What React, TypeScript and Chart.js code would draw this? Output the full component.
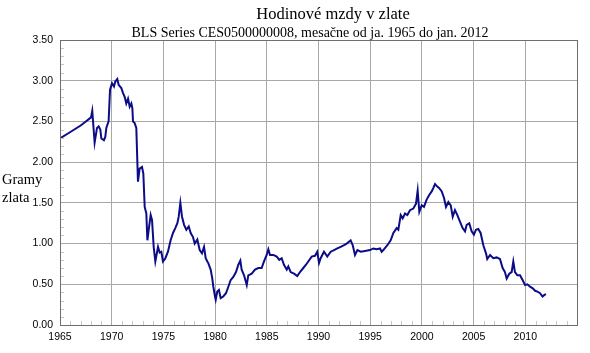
import React, { useEffect, useRef } from "react";
import { Chart, registerables } from "chart.js";

Chart.register(...registerables);

const titleLines = [
  "Hodinové mzdy v zlate",
  "BLS Series CES0500000008, mesačne od ja. 1965 do jan. 2012",
];
const yAxisLabel = ["Gramy", "zlata"];
const xTickYears = [1965, 1970, 1975, 1980, 1985, 1990, 1995, 2000, 2005, 2010];

// 1965 – 1979
const yearsA = [
  1965.0, 1966.0, 1967.0, 1967.5, 1968.0, 1968.12, 1968.35, 1968.58, 1968.74, 1968.9,
  1969.0, 1969.25, 1969.38, 1969.48, 1969.7, 1969.84, 1970.03, 1970.22, 1970.35, 1970.54,
  1970.67, 1970.93, 1971.09, 1971.26, 1971.41, 1971.58, 1971.74, 1971.9, 1972.0, 1972.06,
  1972.22, 1972.38, 1972.54, 1972.7, 1972.93, 1973.06, 1973.19, 1973.35, 1973.45, 1973.58,
  1973.77, 1973.9, 1974.06, 1974.22, 1974.48, 1974.64, 1974.8, 1974.96, 1975.19, 1975.44,
  1975.7, 1975.93, 1976.15, 1976.35, 1976.48, 1976.64, 1976.8, 1977.0, 1977.22, 1977.45,
  1977.64, 1977.86, 1978.03, 1978.28, 1978.51, 1978.73, 1978.93, 1979.09, 1979.25,
];
const gramsA = [
  2.29, 2.37, 2.45, 2.5, 2.55, 2.63, 2.24, 2.42, 2.44, 2.4,
  2.29, 2.27, 2.31, 2.42, 2.5, 2.89, 2.97, 2.93, 2.99, 3.02,
  2.95, 2.91, 2.85, 2.8, 2.72, 2.78, 2.68, 2.72, 2.66, 2.5,
  2.48, 2.42, 1.76, 1.92, 1.94, 1.86, 1.45, 1.37, 1.04, 1.17,
  1.35, 1.29, 0.96, 0.78, 0.96, 0.89, 0.9, 0.78, 0.82, 0.9,
  1.04, 1.13, 1.19, 1.25, 1.33, 1.5, 1.33, 1.23, 1.17, 1.21,
  1.13, 1.08, 1.0, 1.05, 0.92, 0.88, 0.96, 0.82, 0.78,
];

// 1979 – 1996
const yearsB = [
  1979.34, 1979.57, 1979.73, 1979.83, 1979.99, 1980.06, 1980.21, 1980.37, 1980.54, 1980.79,
  1981.05, 1981.28, 1981.5, 1981.76, 1982.02, 1982.25, 1982.44, 1982.57, 1982.8, 1983.06,
  1983.21, 1983.54, 1983.86, 1984.18, 1984.5, 1984.73, 1984.99, 1985.15, 1985.31, 1985.63,
  1985.96, 1986.21, 1986.44, 1986.66, 1986.93, 1987.08, 1987.31, 1987.63, 1987.95, 1988.21,
  1988.53, 1988.79, 1989.01, 1989.34, 1989.66, 1989.88, 1990.05, 1990.21, 1990.53, 1990.85,
  1991.18, 1991.5, 1991.82, 1992.15, 1992.47, 1992.73, 1993.11, 1993.31, 1993.53, 1993.76,
  1994.08, 1994.5, 1994.98, 1995.3, 1995.63, 1995.95,
];
const gramsB = [
  0.76, 0.68, 0.57, 0.47, 0.35, 0.31, 0.41, 0.43, 0.33, 0.35,
  0.39, 0.47, 0.55, 0.59, 0.65, 0.74, 0.79, 0.68, 0.61, 0.49,
  0.61, 0.63, 0.68, 0.7, 0.7, 0.78, 0.86, 0.93, 0.86, 0.86,
  0.84, 0.8, 0.82, 0.74, 0.68, 0.72, 0.65, 0.63, 0.6, 0.65,
  0.7, 0.74, 0.78, 0.84, 0.85, 0.9, 0.76, 0.82, 0.9, 0.84,
  0.9, 0.92, 0.94, 0.96, 0.98, 1.0, 1.04, 0.98, 0.86, 0.92,
  0.9, 0.91, 0.92, 0.94, 0.93, 0.94,
];

// 1996 – 2012
const yearsC = [
  1996.11, 1996.27, 1996.66, 1996.98, 1997.24, 1997.56, 1997.72, 1997.95, 1998.14, 1998.37,
  1998.59, 1998.85, 1999.17, 1999.43, 1999.59, 1999.75, 1999.98, 2000.2, 2000.46, 2000.72,
  2000.95, 2001.1, 2001.27, 2001.49, 2001.68, 2001.92, 2002.14, 2002.33, 2002.56, 2002.79,
  2002.98, 2003.2, 2003.43, 2003.68, 2003.94, 2004.17, 2004.33, 2004.58, 2004.81, 2005.03,
  2005.23, 2005.45, 2005.68, 2005.94, 2006.2, 2006.32, 2006.59, 2006.91, 2007.23, 2007.55,
  2007.81, 2008.03, 2008.2, 2008.45, 2008.68, 2008.84, 2009.0, 2009.23, 2009.49, 2009.75,
  2009.98, 2010.2, 2010.46, 2010.72, 2010.95, 2011.17, 2011.43, 2011.66, 2011.85, 2012.0,
];
const gramsC = [
  0.9, 0.92, 0.98, 1.04, 1.13, 1.19, 1.17, 1.35, 1.31, 1.37,
  1.35, 1.41, 1.43, 1.49, 1.65, 1.39, 1.47, 1.45, 1.54, 1.6,
  1.64, 1.68, 1.73, 1.7, 1.68, 1.64, 1.56, 1.45, 1.51, 1.47,
  1.33, 1.41, 1.35, 1.27, 1.19, 1.15, 1.23, 1.25, 1.15, 1.11,
  1.17, 1.18, 1.13, 0.98, 0.88, 0.81, 0.86, 0.82, 0.83, 0.81,
  0.7, 0.65, 0.57, 0.63, 0.65, 0.78, 0.65, 0.61, 0.61, 0.55,
  0.49, 0.5, 0.47, 0.45, 0.42, 0.41, 0.39, 0.35, 0.37, 0.38,
];

const allYears = [...yearsA, ...yearsB, ...yearsC];
const allGrams = [...gramsA, ...gramsB, ...gramsC];

const decorPlugin = {
  id: "decor",
  afterDraw(chart: any) {
    const { ctx, chartArea, scales } = chart;
    const xs = scales.x;
    const ys = scales.y;
    ctx.save();
    // minor ticks
    ctx.strokeStyle = "#c8c8c8";
    ctx.lineWidth = 1;
    ctx.beginPath();
    for (let i = 1; i < 35; i++) {
      if (i % 5 === 0) continue;
      const y = Math.round(ys.getPixelForValue(i / 10)) + 0.5;
      ctx.moveTo(chartArea.left, y);
      ctx.lineTo(chartArea.left + 4, y);
    }
    for (let yr = 1966; yr < 2015; yr++) {
      if (yr % 5 === 0) continue;
      const x = Math.round(xs.getPixelForValue(yr)) + 0.5;
      ctx.moveTo(x, chartArea.bottom);
      ctx.lineTo(x, chartArea.bottom - 4);
    }
    ctx.stroke();
    // frame
    ctx.strokeStyle = "#6e6e6e";
    ctx.strokeRect(
      Math.round(chartArea.left) + 0.5,
      Math.round(chartArea.top) + 0.5,
      Math.round(chartArea.right - chartArea.left),
      Math.round(chartArea.bottom - chartArea.top)
    );
    // titles
    ctx.fillStyle = "#000";
    ctx.textBaseline = "alphabetic";
    ctx.textAlign = "center";
    ctx.font = "16.5px 'Liberation Serif', 'Times New Roman', serif";
    ctx.fillText(titleLines[0], 333, 19);
    ctx.font = "14px 'Liberation Serif', 'Times New Roman', serif";
    ctx.fillText(titleLines[1], 310, 37);
    ctx.textAlign = "left";
    ctx.font = "14.5px 'Liberation Serif', 'Times New Roman', serif";
    ctx.fillText(yAxisLabel[0], 2, 184);
    ctx.fillText(yAxisLabel[1], 2, 202);
    ctx.restore();
  },
};

export default function App() {
  const ref = useRef<HTMLCanvasElement | null>(null);
  useEffect(() => {
    if (!ref.current) return;
    const chart = new Chart(ref.current, {
      type: "line",
      data: {
        datasets: [
          {
            data: allYears.map((x, i) => ({ x, y: allGrams[i] })),
            borderColor: "#0c0c88",
            borderWidth: 2,
            pointRadius: 0,
            tension: 0,
            fill: false,
          },
        ],
      },
      options: {
        animation: false,
        responsive: false,
        maintainAspectRatio: false,
        layout: { padding: { left: 0, top: 40, right: 13, bottom: 0 } },
        plugins: { legend: { display: false }, title: { display: false }, tooltip: { enabled: false } },
        scales: {
          x: {
            type: "linear",
            min: 1965,
            max: 2015,
            afterBuildTicks: (s: any) => {
              s.ticks = [...xTickYears, 2015].map((v) => ({ value: v }));
            },
            afterFit: (s: any) => {
              s.height = 28;
            },
            ticks: {
              autoSkip: false,
              maxRotation: 0,
              padding: 6,
              color: "#000",
              font: { family: "'Liberation Sans', Arial, sans-serif", size: 10.5 },
              callback: (v: any) => (v === 2015 ? "" : String(v)),
            },
            grid: { color: "#a8a8a8", lineWidth: 1, drawTicks: false },
            border: { display: false },
          },
          y: {
            min: 0,
            max: 3.5,
            afterFit: (s: any) => {
              s.width = 60;
            },
            ticks: {
              stepSize: 0.5,
              padding: 7,
              color: "#000",
              font: { family: "'Liberation Sans', Arial, sans-serif", size: 10.5 },
              callback: (v: any) => Number(v).toFixed(2),
            },
            grid: { color: "#a8a8a8", lineWidth: 1, drawTicks: false },
            border: { display: false },
          },
        },
      },
      plugins: [decorPlugin],
    });
    return () => chart.destroy();
  }, []);
  return (
    <div style={{ position: "fixed", left: 0, top: 0, width: 590, height: 353, background: "#fff" }}>
      <canvas ref={ref} width={590} height={353} style={{ width: 590, height: 353 }} />
    </div>
  );
}
